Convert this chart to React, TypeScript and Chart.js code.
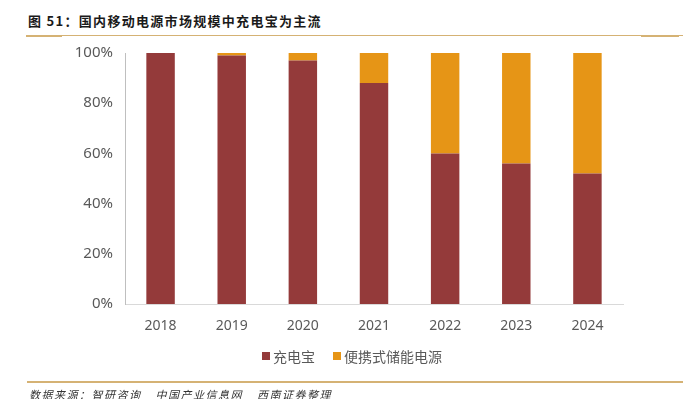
import React, { useEffect, useRef } from "react";
import { Chart, registerables } from "chart.js";

Chart.register(...registerables);

const years = ["2018", "2019", "2020", "2021", "2022", "2023", "2024"];
const powerBank = [100, 99, 97, 88, 60, 56, 52];
const portableStorage = [0, 1, 3, 12, 40, 44, 48];
const yTicks = [0, 20, 40, 60, 80, 100];
const seriesNames = ["充电宝", "便携式储能电源"];
const seriesColors = ["#943A3A", "#E69516"];

const title = "图 51：国内移动电源市场规模中充电宝为主流";
const sourceParts = ["数据来源：智研咨询", "中国产业信息网", "西南证券整理"];

export default function App() {
  const ref = useRef<HTMLCanvasElement>(null);

  useEffect(() => {
    document.body.style.margin = "0";
    const ctx = ref.current!;
    const chart = new Chart(ctx, {
      type: "bar",
      data: {
        labels: years,
        datasets: [
          {
            label: seriesNames[0],
            data: powerBank,
            backgroundColor: seriesColors[0],
            borderWidth: 0,
            barPercentage: 0.4,
            categoryPercentage: 1,
          },
          {
            label: seriesNames[1],
            data: portableStorage,
            backgroundColor: seriesColors[1],
            borderWidth: 0,
            barPercentage: 0.4,
            categoryPercentage: 1,
          },
        ],
      },
      options: {
        animation: false,
        responsive: false,
        layout: { padding: { left: 0, right: 60, top: 53, bottom: 64 } },
        plugins: {
          tooltip: { enabled: false },
          legend: { display: false },
        },
        scales: {
          x: {
            stacked: true,
            grid: { display: false, drawTicks: false },
            border: { color: "#D9D9D9", width: 1 },
            afterFit: (s: any) => {
              s.height = 31;
            },
            ticks: {
              color: "#595959",
              padding: 14,
              font: { family: "'Noto Sans', 'Liberation Sans'", size: 14 },
            },
          },
          y: {
            stacked: true,
            min: 0,
            max: 100,
            afterFit: (s: any) => {
              s.width = 125;
            },
            afterBuildTicks: (s: any) => {
              s.ticks = yTicks.map((v) => ({ value: v }));
            },
            grid: { display: false, drawTicks: true, tickLength: 4, tickColor: "#BFBFBF" },
            border: { color: "#BFBFBF", width: 1 },
            ticks: {
              color: "#595959",
              padding: 8,
              font: { family: "'Noto Sans', 'Liberation Sans'", size: 15 },
              callback: (v: any) => v + "%",
            },
          },
        },
      },
    });
    return () => chart.destroy();
  }, []);

  const gold = "#D5B274";

  return (
    <div style={{ position: "relative", width: 683, height: 399, background: "#fff", overflow: "hidden" }}>
      <div
        style={{
          position: "absolute",
          left: 28,
          top: 12,
          fontFamily: "'Noto Sans CJK SC'",
          fontWeight: 700,
          fontSize: 13,
          letterSpacing: 1.3,
          lineHeight: "18px",
          color: "#1a1a1a",
          whiteSpace: "nowrap",
        }}
      >
        {title}
      </div>
      <div style={{ position: "absolute", left: 27, top: 35, width: 656, height: 1, background: gold }} />
      <div style={{ position: "absolute", left: 26, top: 35, width: 36, height: 2, background: gold }} />
      <div style={{ position: "absolute", left: 641, top: 35, width: 38, height: 2, background: gold }} />
      <canvas ref={ref} width={683} height={399} style={{ position: "absolute", left: 0, top: 0 }} />
      <div
        style={{
          position: "absolute",
          left: 262,
          top: 346,
          height: 20,
          display: "flex",
          alignItems: "center",
          fontFamily: "'Noto Sans CJK SC'",
          fontSize: 14,
          color: "#595959",
          whiteSpace: "nowrap",
        }}
      >
        {seriesNames.map((n, i) => (
          <div key={n} style={{ display: "flex", alignItems: "center", marginRight: i === 0 ? 18 : 0 }}>
            <span style={{ display: "inline-block", width: 8, height: 8, background: seriesColors[i], marginRight: 3 }} />
            <span>{n}</span>
          </div>
        ))}
      </div>
      <div style={{ position: "absolute", left: 27, top: 381, width: 656, height: 2, background: gold }} />
      <div
        style={{
          position: "absolute",
          left: 29,
          top: 388,
          display: "flex",
          fontFamily: "'Noto Sans CJK SC'",
          fontStyle: "italic",
          fontSize: 11,
          letterSpacing: 1.5,
          color: "#333",
          whiteSpace: "nowrap",
          lineHeight: "13px",
        }}
      >
        {sourceParts.map((p, i) => (
          <span key={p} style={{ marginRight: i < sourceParts.length - 1 ? 14 : 0 }}>
            {p}
          </span>
        ))}
      </div>
    </div>
  );
}
